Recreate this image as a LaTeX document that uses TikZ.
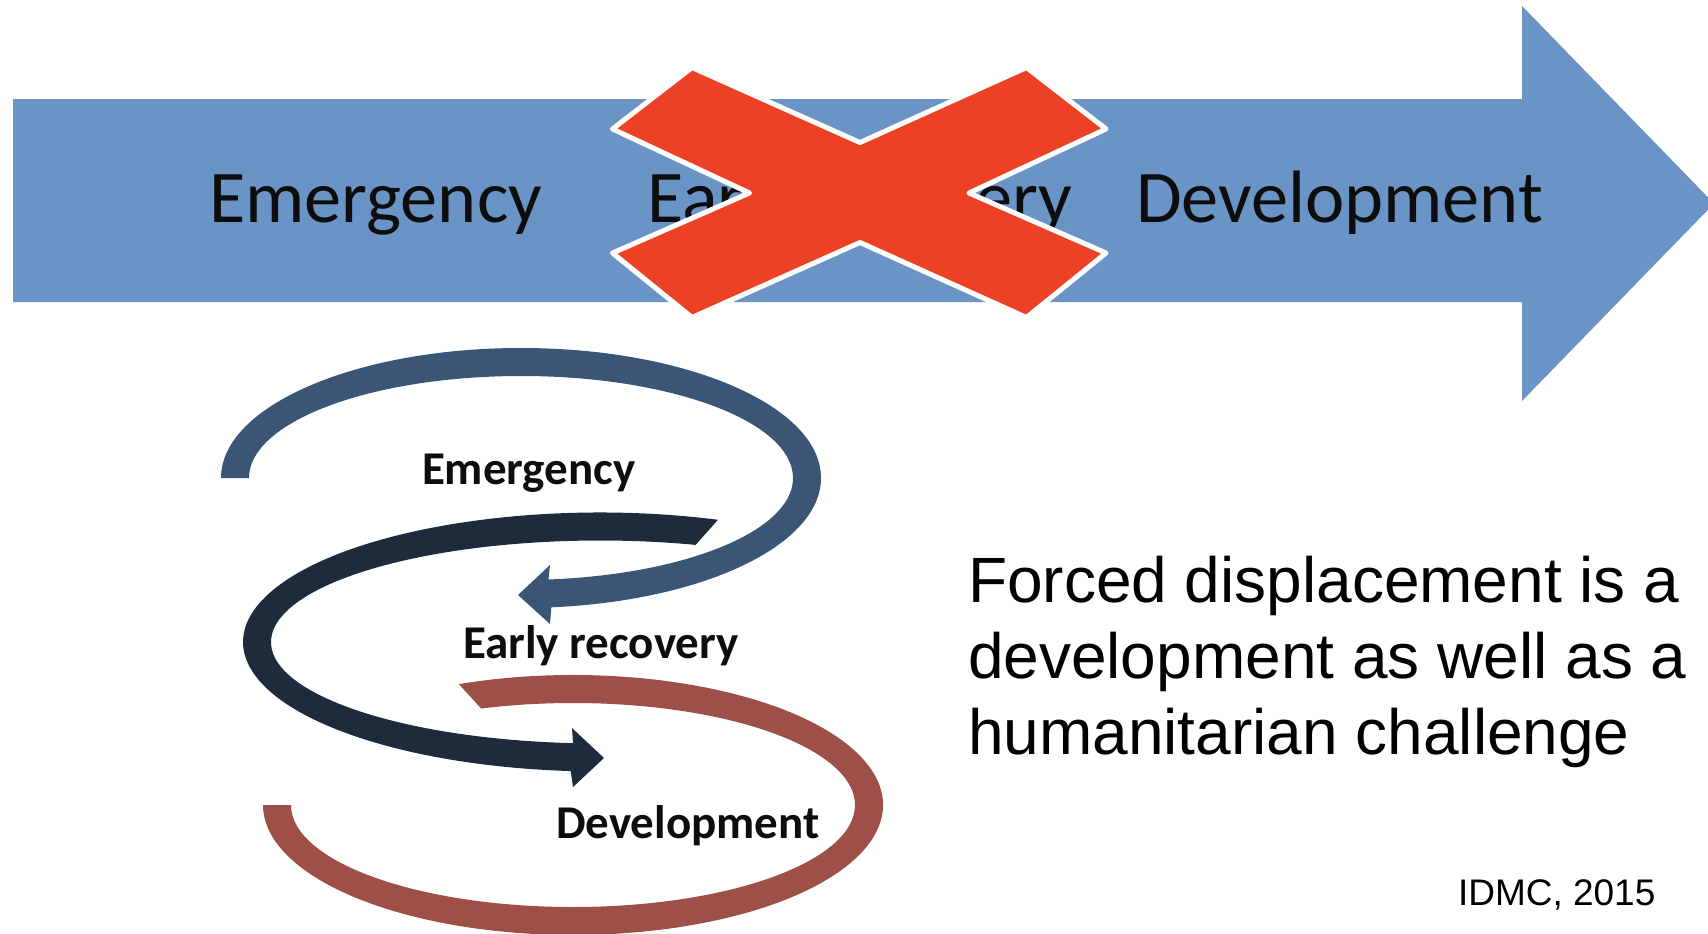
\documentclass[tikz,border=0pt]{standalone}
\usepackage{fontspec}
\setmainfont{Carlito}
\newfontfamily\arialfont{Liberation Sans}
\usetikzlibrary{calc}
\definecolor{bigblue}{HTML}{6A93C6}
\definecolor{xred}{HTML}{EC4124}
\definecolor{arcblue}{HTML}{3A5575}
\definecolor{arcnavy}{HTML}{1E2B3C}
\definecolor{arcred}{HTML}{9E5048}
\definecolor{txt}{HTML}{0D0D0D}
\begin{document}
\begin{tikzpicture}[x=1pt,y=-1pt,
  bigtxt/.style={inner sep=0pt, outer sep=0pt, anchor=base west, font=\fontsize{74.3}{88}\selectfont, text=txt},
  looptxt/.style={inner sep=0pt, outer sep=0pt, anchor=base west, font=\bfseries\fontsize{47}{56}\selectfont, text=txt},
  sidetxt/.style={inner sep=0pt, outer sep=0pt, anchor=base west, font=\arialfont\fontsize{64}{76}\selectfont, text=black},
  srctxt/.style={inner sep=0pt, outer sep=0pt, anchor=base west, font=\arialfont\fontsize{37}{44}\selectfont, text=black},
]
\useasboundingbox (0,0) rectangle (1708,934);
\fill[white] (0,0) rectangle (1708,934);
% big arrow
\begin{scope}
\clip (0,0) rectangle (1708,934);
\fill[bigblue] (13,99) -- (1522,99) -- (1522,6) -- (1714,203.5) -- (1522,401) -- (1522,302) -- (13,302) -- cycle;
\end{scope}
\node[bigtxt] (te) at (209,222) {Emergency};
\node[bigtxt] (tr) at (647,222) {Early recovery};
\node[bigtxt] (td) at (1136,222) {Development};
% cross
\filldraw[fill=xred, draw=white, line width=5pt, line join=round]
  (612.5,129) -- (692,67.5) -- (860,142.5) -- (1026.5,67.5) -- (1106,129) -- (969,193) --
  (1106,253) -- (1026.5,317.5) -- (860,242.5) -- (692,317.5) -- (612.5,253) -- (749.5,193) -- cycle;
% loop arcs
\coordinate (nc) at (600,642);
\coordinate (bc) at (521,478);
\coordinate (rc) at (573,805);
\fill[arcnavy] ($(nc)+(289.3:357 and 129.5)$)
  arc[start angle=289.3, end angle=94.7, x radius=357, y radius=129.5]
  -- (573,787) -- (604,758) -- (572,728)
  -- ($(nc)+(94.7:329 and 101.5)$)
  arc[start angle=94.7, end angle=286.9, x radius=329, y radius=101.5] -- cycle;
\fill[arcblue] ($(bc)+(180:300 and 130)$)
  arc[start angle=180, end angle=444.2, x radius=300, y radius=130]
  -- (550,624) -- (518,595) -- (550,565)
  -- ($(bc)+(444.2:272 and 102)$)
  arc[start angle=444.2, end angle=180, x radius=272, y radius=102] -- cycle;
\fill[arcred] ($(rc)+(248.4:310 and 130)$)
  arc[start angle=248.4, end angle=540, x radius=310, y radius=130]
  -- ($(rc)+(540:282 and 102)$)
  arc[start angle=540, end angle=251, x radius=282, y radius=102] -- cycle;
\node[looptxt] (le) at (422,484) {Emergency};
\node[looptxt] (lr) at (463,658) {Early recovery};
\node[looptxt] (ld) at (556,838) {Development};
% side text
\node[sidetxt] (s1) at (968,602) {Forced displacement is a};
\node[sidetxt] (s2) at (968,678) {development as well as a};
\node[sidetxt] (s3) at (968,754) {humanitarian challenge};
\node[srctxt] (src) at (1458,905) {IDMC, 2015};
\end{tikzpicture}
\end{document}
